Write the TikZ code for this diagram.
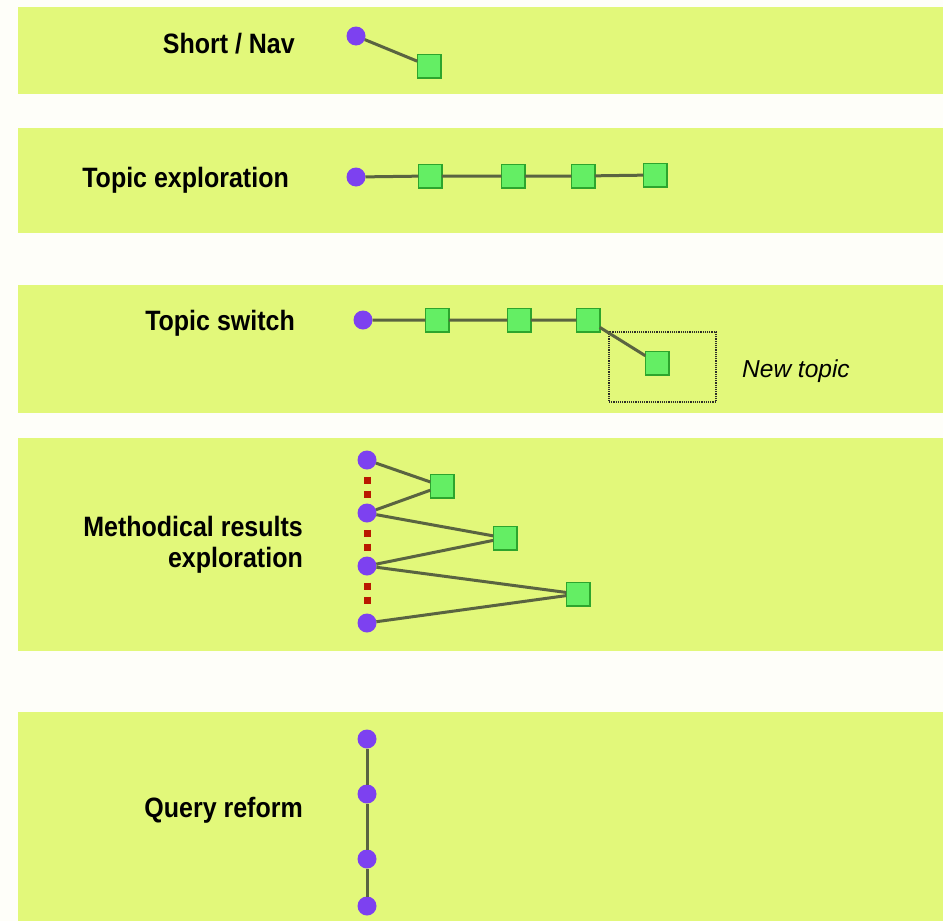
\documentclass[tikz,border=0pt]{standalone}
\usepackage{fontspec}
\setmainfont{Liberation Sans}
\usepackage{graphicx}

\definecolor{pagefill}{RGB}{254,254,249}
\definecolor{bandfill}{RGB}{226,248,122}
\definecolor{qpurple}{RGB}{125,65,240}
\definecolor{rgreen}{RGB}{100,238,100}
\definecolor{rgreenline}{RGB}{45,165,45}
\definecolor{linkcol}{RGB}{90,100,65}
\definecolor{dotred}{RGB}{185,25,0}
\definecolor{boxline}{RGB}{45,45,40}

\newcommand{\tall}[1]{\scalebox{1}[1.12]{#1}}

\tikzset{
  band/.style={fill=bandfill, draw=none},
  query/.style={circle, fill=qpurple, minimum size=19pt, inner sep=0pt, outer sep=0pt},
  result/.style={rectangle, fill=rgreen, draw=rgreenline, line width=1.5pt,
                 minimum size=23.5pt, inner sep=0pt, outer sep=0pt},
  link/.style={draw=linkcol, line width=3pt},
  seqdots/.style={draw=dotred, line width=7pt,
                  dash pattern=on 7pt off 7pt on 7pt off 40pt, dash phase=54pt},
  rowlabel/.style={anchor=base east, inner sep=0pt,
                   font=\fontsize{25}{28.5}\selectfont\bfseries},
  notelabel/.style={anchor=base west, inner sep=0pt,
                    font=\fontsize{24.5}{28}\selectfont\itshape},
  groupbox/.style={draw=boxline, densely dotted, line width=1.2pt, fill=none}
}

\begin{document}
\begin{tikzpicture}[x=1pt, y=-1pt]
  % page and the five row bands
  \fill[pagefill] (0,0) rectangle (943,921);
  \useasboundingbox (0,0) rectangle (943,921);
  \fill[band] (18,7)   rectangle (943,94);
  \fill[band] (18,128) rectangle (943,233);
  \fill[band] (18,285) rectangle (943,413);
  \fill[band] (18,438) rectangle (943,651);
  \fill[band] (18,712) rectangle (943,921);

  % row labels
  \node[rowlabel] (lshort) at (295,53)  {\tall{Short / Nav}};
  \node[rowlabel] (ltopic) at (289,187) {\tall{Topic exploration}};
  \node[rowlabel] (lswitch) at (295,330) {\tall{Topic switch}};
  \node[rowlabel] (lmethod) at (303,536)
    {\tall{\begin{tabular}[t]{@{}r@{}}Methodical results\\exploration\end{tabular}}};
  \node[rowlabel] (lreform) at (303,817) {\tall{Query reform}};

  % Short / Nav
  \node[query]  (a1) at (356,36) {};
  \node[result] (a2) at (429,66) {};
  \draw[link] (a1) -- (a2);

  % Topic exploration
  \node[query]  (b0) at (356,177) {};
  \node[result] (b1) at (430,176) {};
  \node[result] (b2) at (513,176) {};
  \node[result] (b3) at (583,176) {};
  \node[result] (b4) at (655,175) {};
  \draw[link] (b0) -- (b1) -- (b2) -- (b3) -- (b4);

  % Topic switch
  \node[groupbox, minimum width=107pt, minimum height=70pt, inner sep=0pt] (nbox) at (662.5,367) {};
  \node[query]  (c0) at (363,320) {};
  \node[result] (c1) at (437,320) {};
  \node[result] (c2) at (519,320) {};
  \node[result] (c3) at (588,320) {};
  \node[result] (c4) at (657,363) {};
  \draw[link] (c0) -- (c1) -- (c2) -- (c3) -- (c4);
  \node[notelabel] (newtopic) at (742,377) {New topic};

  % Methodical results exploration
  \node[query]  (d1) at (367,460) {};
  \node[query]  (d2) at (367,513) {};
  \node[query]  (d3) at (367,566) {};
  \node[query]  (d4) at (367,623) {};
  \node[result] (e1) at (442,486) {};
  \node[result] (e2) at (505,538) {};
  \node[result] (e3) at (578,594) {};
  \draw[seqdots] (d1) -- (d2);
  \draw[seqdots] (d2) -- (d3);
  \draw[seqdots] (d3) -- (d4);
  \draw[link] (d1) -- (e1) -- (d2) -- (e2) -- (d3) -- (e3) -- (d4);

  % Query reform
  \node[query] (f1) at (367,739) {};
  \node[query] (f2) at (367,794) {};
  \node[query] (f3) at (367,859) {};
  \node[query] (f4) at (367,906) {};
  \draw[link] (f1) -- (f2) -- (f3) -- (f4);
\end{tikzpicture}
\end{document}
